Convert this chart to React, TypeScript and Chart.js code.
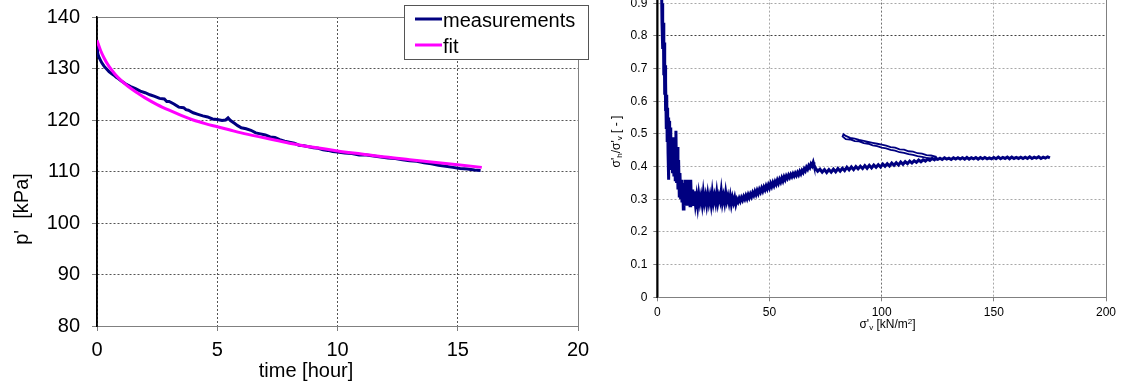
import React, { useEffect, useRef } from "react";
import { Chart, registerables } from "chart.js";

Chart.register(...registerables);

const FONT = '"Liberation Sans", Arial, Helvetica, sans-serif';
const NAVY = "#000080";
const MAGENTA = "#FF00FF";

// ---------- Left chart: p' vs time ----------
const timeTicks = [0, 5, 10, 15, 20];
const pTicks = [80, 90, 100, 110, 120, 130, 140];
const legendLabels = ["measurements", "fit"];
const leftXTitle = "time [hour]";
const leftYTitle = "p'  [kPa]";

const measTime = [
  0, 0.02, 0.05, 0.1, 0.2, 0.3, 0.4, 0.5, 0.6, 0.7,
  0.8, 0.9, 1.0, 1.2, 1.4, 1.6, 1.8, 2.0, 2.2, 2.4,
  2.6, 2.8, 2.9, 3.0, 3.2, 3.4, 3.6, 3.7, 3.8, 4.0,
  4.2, 4.4, 4.6, 4.8, 5.0, 5.2, 5.35, 5.45, 5.55, 5.7,
  5.85, 6.0, 6.2, 6.4, 6.6, 6.8, 7.0, 7.2, 7.4, 7.6,
  7.8, 8.0, 8.2, 8.4, 8.6, 8.8, 9.0, 9.2, 9.4, 9.6,
  9.8, 10.0, 10.3, 10.6, 10.9, 11.2, 11.5, 11.8, 12.1, 12.4,
  12.7, 13.0, 13.3, 13.6, 13.9, 14.2, 14.5, 14.8, 15.1, 15.4,
  15.7, 15.95,
];
const measP = [
  134.6, 133.2, 132.6, 132.0, 131.1, 130.4, 129.9, 129.4, 129.0, 128.7,
  128.3, 128.0, 127.6, 127.0, 126.5, 126.1, 125.6, 125.3, 124.9, 124.6,
  124.2, 124.1, 123.6, 123.6, 123.1, 122.5, 122.4, 122.0, 121.9, 121.4,
  121.1, 120.8, 120.6, 120.2, 120.1, 119.9, 120.0, 120.4, 119.9, 119.4,
  118.9, 118.5, 118.3, 118.0, 117.5, 117.3, 117.1, 116.7, 116.6, 116.2,
  115.9, 115.7, 115.5, 115.1, 115.0, 114.8, 114.6, 114.5, 114.2, 114.1,
  113.9, 113.8, 113.6, 113.5, 113.2, 113.2, 113.0, 112.8, 112.6, 112.5,
  112.3, 112.1, 112.0, 111.7, 111.5, 111.2, 111.0, 110.8, 110.6, 110.5,
  110.3, 110.2,
];
const fitTime = [
  0, 0.05, 0.15, 0.3, 0.5, 0.75, 1.0, 1.3, 1.7, 2.0,
  2.5, 3.0, 3.5, 4.0, 4.5, 5.0, 5.5, 6.0, 7.0, 8.0,
  9.0, 10.0, 11.0, 12.0, 13.0, 14.0, 15.0, 16.0,
];
const fitP = [
  135.5, 134.8, 133.5, 132.0, 130.4, 128.9, 127.7, 126.5, 125.2, 124.3,
  123.0, 121.9, 120.9, 120.0, 119.3, 118.7, 118.1, 117.5, 116.5, 115.5,
  114.7, 114.0, 113.4, 112.8, 112.3, 111.8, 111.3, 110.8,
];

// ---------- Right chart: stress ratio vs vertical stress ----------
const sigmaTicks = [0, 50, 100, 150, 200];
const ratioTicks = [0, 0.1, 0.2, 0.3, 0.4, 0.5, 0.6, 0.7, 0.8, 0.9, 1.0];

const descentV = [
  1.2, 1.5, 1.7, 1.9, 2.1, 2.3, 2.5, 2.7, 2.9, 3.1,
  3.3, 3.5, 3.6, 3.8, 4.0, 4.2, 4.4, 4.6, 4.8, 5.0,
  5.1, 5.3, 5.5, 5.7, 5.9, 6.1, 6.3, 6.6, 6.8, 7.1,
  7.4, 7.7, 8.0, 8.3, 8.6, 8.9, 9.2, 9.5, 9.8, 10.1,
  10.4, 10.7, 11.0, 11.3, 11.6, 11.9, 12.2, 12.5, 12.8, 13.1,
  13.4, 13.7, 14.0, 14.3, 14.6, 14.9, 15.2, 15.5, 15.8, 16.1,
];
const descentR = [
  1.05, 0.98, 0.92, 0.95, 0.84, 0.9, 0.76, 0.84, 0.68, 0.78,
  0.62, 0.71, 0.57, 0.66, 0.52, 0.62, 0.48, 0.58, 0.44, 0.55,
  0.36, 0.54, 0.42, 0.52, 0.4, 0.5, 0.39, 0.49, 0.38, 0.47,
  0.37, 0.49, 0.36, 0.51, 0.35, 0.46, 0.33, 0.42, 0.31, 0.38,
  0.3, 0.36, 0.29, 0.35, 0.27, 0.33, 0.28, 0.36, 0.29, 0.35,
  0.28, 0.36, 0.29, 0.34, 0.28, 0.36, 0.29, 0.33, 0.28, 0.32,
];
const plateauV = [
  16.5, 17, 17.5, 18, 18.5, 19, 19.5, 20, 20.5, 21,
  21.5, 22, 22.5, 23, 23.5, 24, 24.5, 25, 25.5, 26,
  26.5, 27, 27.5, 28, 28.5, 29, 29.5, 30, 30.5, 31,
  31.5, 32, 32.5, 33, 33.5, 34, 34.5, 35, 35.5,
];
const plateauR = [
  0.32, 0.285, 0.31, 0.28, 0.315, 0.29, 0.31, 0.285, 0.32, 0.29,
  0.31, 0.285, 0.315, 0.29, 0.31, 0.285, 0.32, 0.29, 0.31, 0.29,
  0.32, 0.29, 0.31, 0.295, 0.325, 0.29, 0.31, 0.29, 0.32, 0.295,
  0.31, 0.29, 0.31, 0.285, 0.305, 0.29, 0.305, 0.285, 0.3,
];
const riseV = [
  36, 36.5, 37, 37.5, 38, 38.5, 39, 39.5, 40, 40.5,
  41, 41.5, 42, 42.5, 43, 43.5, 44, 44.5, 45, 45.5,
  46, 46.5, 47, 47.5, 48, 48.5, 49, 49.5, 50, 50.5,
  51, 51.5, 52, 52.5, 53, 53.5, 54, 54.5, 55, 55.5,
  56, 56.5, 57, 57.5, 58, 58.5, 59, 59.5, 60, 60.5,
  61, 61.5, 62, 62.5, 63, 63.5, 64, 64.5, 65, 65.5,
  66, 66.5, 67, 67.5, 68, 68.5, 69, 69.5, 69.8,
];
const riseR = [
  0.292, 0.303, 0.294, 0.305, 0.297, 0.308, 0.3, 0.311, 0.302, 0.314,
  0.305, 0.316, 0.308, 0.32, 0.312, 0.324, 0.315, 0.327, 0.318, 0.33,
  0.322, 0.334, 0.325, 0.337, 0.329, 0.341, 0.332, 0.344, 0.335, 0.348,
  0.339, 0.351, 0.342, 0.354, 0.346, 0.358, 0.349, 0.361, 0.353, 0.365,
  0.356, 0.368, 0.36, 0.371, 0.364, 0.374, 0.367, 0.376, 0.369, 0.378,
  0.371, 0.38, 0.373, 0.382, 0.375, 0.385, 0.378, 0.388, 0.382, 0.393,
  0.387, 0.398, 0.392, 0.403, 0.397, 0.408, 0.402, 0.413, 0.405,
];
const loadV = [
  70.5, 71.5, 72.5, 73.5, 74.5, 75.5, 76.5, 77.5, 78.5, 79.5,
  80.5, 81.5, 82.5, 83.5, 84.5, 85.5, 86.5, 87.5, 88.5, 89.5,
  90.5, 91.5, 92.5, 93.5, 94.5, 95.5, 96.5, 97.5, 98.5, 99.5,
  100.5, 101.5, 102.5, 103.5, 104.5, 105.5, 106.5, 107.5, 108.5, 109.5,
  110.5, 111.5, 112.5, 113.5, 114.5, 115.5, 116.5, 117.5, 118.5, 119.5,
  120.5, 121.5, 122.5, 123.5,
];
const loadR = [
  0.395, 0.386, 0.392, 0.383, 0.391, 0.382, 0.391, 0.383, 0.392, 0.384,
  0.394, 0.386, 0.395, 0.388, 0.398, 0.39, 0.399, 0.391, 0.4, 0.393,
  0.401, 0.394, 0.403, 0.395, 0.404, 0.396, 0.405, 0.398, 0.406, 0.399,
  0.408, 0.401, 0.409, 0.402, 0.411, 0.404, 0.412, 0.405, 0.414, 0.407,
  0.415, 0.409, 0.417, 0.411, 0.418, 0.413, 0.42, 0.415, 0.421, 0.417,
  0.423, 0.419, 0.425, 0.421,
];
const unloadV = [
  124.5, 122, 120, 118, 116, 114, 112, 110, 108, 106,
  104, 102, 100, 98, 96, 94, 92, 90, 88, 86,
  84, 83, 82.6,
];
const unloadR = [
  0.43, 0.434, 0.435, 0.44, 0.441, 0.446, 0.447, 0.452, 0.453, 0.458,
  0.46, 0.464, 0.467, 0.47, 0.473, 0.476, 0.479, 0.482, 0.486, 0.488,
  0.494, 0.499, 0.492,
];
const reloadV = [
  84, 86, 88, 90, 92, 94, 96, 98, 100, 102,
  104, 106, 108, 110, 112, 114, 116, 118, 120, 122,
  124,
];
const reloadR = [
  0.484, 0.483, 0.478, 0.477, 0.472, 0.47, 0.465, 0.463, 0.458, 0.456,
  0.451, 0.449, 0.444, 0.442, 0.438, 0.436, 0.432, 0.43, 0.427, 0.425,
  0.424,
];
const tailV = [
  125, 126, 127, 128, 129, 130, 131, 132, 133, 134,
  135, 136, 137, 138, 139, 140, 141, 142, 143, 144,
  145, 146, 147, 148, 149, 150, 151, 152, 153, 154,
  155, 156, 157, 158, 159, 160, 161, 162, 163, 164,
  165, 166, 167, 168, 169, 170, 171, 172, 173, 174,
  175,
];
const tailR = [
  0.422, 0.426, 0.422, 0.427, 0.423, 0.426, 0.422, 0.427, 0.423, 0.427,
  0.423, 0.427, 0.423, 0.428, 0.423, 0.427, 0.424, 0.428, 0.423, 0.428,
  0.424, 0.428, 0.424, 0.427, 0.424, 0.428, 0.424, 0.429, 0.424, 0.428,
  0.425, 0.429, 0.424, 0.429, 0.425, 0.428, 0.425, 0.429, 0.425, 0.429,
  0.425, 0.43, 0.425, 0.429, 0.426, 0.43, 0.425, 0.429, 0.426, 0.43,
  0.427,
];

type Run = { t: string; size: number; dy?: number };
const rightXTitle: Run[] = [
  { t: "σ'", size: 12 },
  { t: "v", size: 8, dy: 2 },
  { t: " [kN/m", size: 12 },
  { t: "2", size: 8, dy: -4 },
  { t: "]", size: 12 },
];
const rightYTitle: Run[] = [
  { t: "σ'", size: 12 },
  { t: "h", size: 8, dy: 2 },
  { t: "/σ'", size: 12 },
  { t: "v", size: 8, dy: 2 },
  { t: " [ - ]", size: 12 },
];

function runsWidth(ctx: CanvasRenderingContext2D, runs: Run[]) {
  let w = 0;
  for (const r of runs) {
    ctx.font = `${r.size}px ${FONT}`;
    w += ctx.measureText(r.t).width;
  }
  return w;
}
function drawRuns(ctx: CanvasRenderingContext2D, runs: Run[], x: number, y: number) {
  let cx = x - runsWidth(ctx, runs) / 2;
  ctx.textAlign = "left";
  ctx.textBaseline = "alphabetic";
  for (const r of runs) {
    ctx.font = `${r.size}px ${FONT}`;
    ctx.fillText(r.t, cx, y + (r.dy || 0));
    cx += ctx.measureText(r.t).width;
  }
}

const toPoints = (xs: number[], ys: number[]) => xs.map((x, i) => ({ x, y: ys[i] }));

function drawFrame(chart: any) {
  const { ctx, chartArea: a } = chart;
  ctx.save();
  ctx.setLineDash([]);
  ctx.strokeStyle = "#808080";
  ctx.lineWidth = 1;
  ctx.beginPath();
  ctx.moveTo(a.left, Math.round(a.top) + 0.5);
  ctx.lineTo(Math.round(a.right) + 0.5, Math.round(a.top) + 0.5);
  ctx.lineTo(Math.round(a.right) + 0.5, Math.round(a.bottom) + 0.5);
  ctx.lineTo(a.left, Math.round(a.bottom) + 0.5);
  ctx.stroke();
  ctx.strokeStyle = "#000";
  ctx.lineWidth = 1.5;
  ctx.beginPath();
  ctx.moveTo(Math.round(a.left), a.top);
  ctx.lineTo(Math.round(a.left), Math.round(a.bottom) + 1);
  ctx.stroke();
  ctx.restore();
}

const leftDecor = {
  id: "leftDecor",
  beforeDatasetsDraw(chart: any) {
    drawFrame(chart);
  },
  afterDraw(chart: any) {
    const { ctx } = chart;
    ctx.save();
    ctx.fillStyle = "#000";
    ctx.font = `20px ${FONT}`;
    ctx.textAlign = "center";
    ctx.textBaseline = "alphabetic";
    ctx.fillText(leftXTitle, 306, 377);
    ctx.save();
    ctx.translate(28, 209);
    ctx.rotate(-Math.PI / 2);
    ctx.fillText(leftYTitle, 0, 0);
    ctx.restore();
    // legend
    ctx.fillStyle = "#fff";
    ctx.fillRect(404, 5, 184, 54);
    ctx.strokeStyle = "#555";
    ctx.lineWidth = 1;
    ctx.strokeRect(404.5, 5.5, 184, 54);
    const colors = [NAVY, MAGENTA];
    const ys = [19, 45];
    legendLabels.forEach((lab, i) => {
      ctx.strokeStyle = colors[i];
      ctx.lineWidth = 3;
      ctx.beginPath();
      ctx.moveTo(415, ys[i]);
      ctx.lineTo(442, ys[i]);
      ctx.stroke();
      ctx.fillStyle = "#000";
      ctx.textAlign = "left";
      ctx.font = `20px ${FONT}`;
      ctx.fillText(lab, 443, ys[i] + 7.5);
    });
    ctx.restore();
  },
};

const rightDecor = {
  id: "rightDecor",
  beforeDatasetsDraw(chart: any) {
    drawFrame(chart);
  },
  afterDraw(chart: any) {
    const { ctx } = chart;
    ctx.save();
    ctx.fillStyle = "#000";
    drawRuns(ctx, rightXTitle, 287.5, 357.5);
    ctx.translate(20, 171.5);
    ctx.rotate(-Math.PI / 2);
    drawRuns(ctx, rightYTitle, 0, 0);
    ctx.restore();
  },
};

function LeftChart() {
  const ref = useRef<HTMLCanvasElement>(null);
  useEffect(() => {
    const chart = new Chart(ref.current as HTMLCanvasElement, {
      type: "line",
      data: {
        datasets: [
          {
            label: legendLabels[1],
            data: toPoints(fitTime, fitP),
            borderColor: MAGENTA,
            borderWidth: 3,
            pointRadius: 0,
            cubicInterpolationMode: "monotone",
            order: 0,
          },
          {
            label: legendLabels[0],
            data: toPoints(measTime, measP),
            borderColor: NAVY,
            borderWidth: 3,
            pointRadius: 0,
            order: 1,
          },
        ],
      },
      options: {
        animation: false,
        responsive: false,
        events: [],
        layout: { padding: { left: 0, right: 22, top: 17, bottom: 0 } },
        plugins: { legend: { display: false }, tooltip: { enabled: false } },
        scales: {
          x: {
            type: "linear",
            min: 0,
            max: 20,
            afterBuildTicks: (s: any) => {
              s.ticks = timeTicks.map((v) => ({ value: v }));
            },
            afterFit: (s: any) => {
              s.height = 56;
              s.paddingLeft = 0;
              s.paddingRight = 0;
            },
            grid: { color: "#555", lineWidth: 1, tickLength: 5, tickColor: "#808080" },
            border: { color: "#808080", width: 1, dash: [2, 2] },
            ticks: { font: { family: FONT, size: 20 }, color: "#000", padding: 7, maxRotation: 0, autoSkip: false },
          },
          y: {
            type: "linear",
            min: 80,
            max: 140,
            afterBuildTicks: (s: any) => {
              s.ticks = pTicks.map((v) => ({ value: v }));
            },
            afterFit: (s: any) => {
              s.width = 97;
              s.paddingTop = 0;
              s.paddingBottom = 0;
            },
            grid: { color: "#555", lineWidth: 1, tickLength: 5, tickColor: "#808080" },
            border: { color: "#000", width: 1.5, dash: [2, 2] },
            ticks: { font: { family: FONT, size: 20 }, color: "#000", padding: 12, autoSkip: false },
          },
        },
      },
      plugins: [leftDecor],
    } as any);
    return () => chart.destroy();
  }, []);
  return (
    <canvas
      ref={ref}
      width={600}
      height={382}
      style={{ position: "absolute", left: 0, top: 0, width: 600, height: 382 }}
    />
  );
}

function RightChart() {
  const ref = useRef<HTMLCanvasElement>(null);
  useEffect(() => {
    const vs = [...descentV, ...plateauV, ...riseV, ...loadV, ...unloadV, ...reloadV, ...tailV];
    const rs = [...descentR, ...plateauR, ...riseR, ...loadR, ...unloadR, ...reloadR, ...tailR];
    const loopStart = descentV.length + plateauV.length + riseV.length + loadV.length;
    const loopEnd = loopStart + unloadV.length + reloadV.length - 1;
    const descentEnd = descentV.length - 1;
    const chart = new Chart(ref.current as HTMLCanvasElement, {
      type: "line",
      data: {
        datasets: [
          {
            label: "σ'h/σ'v",
            data: toPoints(vs, rs),
            borderColor: NAVY,
            borderWidth: 3,
            pointRadius: 0,
            tension: 0,
            segment: {
              borderWidth: (c: any) =>
                c.p0DataIndex < descentEnd
                  ? 3
                  : c.p0DataIndex >= loopStart && c.p0DataIndex < loopEnd
                  ? 1.8
                  : 3,
            },
          },
        ],
      },
      options: {
        animation: false,
        responsive: false,
        events: [],
        layout: { padding: { left: 0, right: 22, top: 0.6, bottom: 0 } },
        plugins: { legend: { display: false }, tooltip: { enabled: false } },
        scales: {
          x: {
            type: "linear",
            min: 0,
            max: 200,
            afterBuildTicks: (s: any) => {
              s.ticks = sigmaTicks.map((v) => ({ value: v }));
            },
            afterFit: (s: any) => {
              s.height = 84.7;
              s.paddingLeft = 0;
              s.paddingRight = 0;
            },
            grid: {
              color: (c: any) => (c.tick && c.tick.value === 100 ? "#707070" : "#a8a8a8"),
              lineWidth: 1,
              tickLength: 4,
              tickColor: "#808080",
            },
            border: { color: "#808080", width: 1, dash: [2, 2] },
            ticks: { font: { family: FONT, size: 12 }, color: "#000", padding: 4, maxRotation: 0, autoSkip: false },
          },
          y: {
            type: "linear",
            min: 0,
            max: 1,
            afterBuildTicks: (s: any) => {
              s.ticks = ratioTicks.map((v) => ({ value: v }));
            },
            afterFit: (s: any) => {
              s.width = 57.3;
              s.paddingTop = 0;
              s.paddingBottom = 0;
            },
            grid: {
              color: (c: any) => (c.tick && c.tick.value === 0.8 ? "#404040" : "#a8a8a8"),
              lineWidth: 1,
              tickLength: 4,
              tickColor: "#808080",
            },
            border: { color: "#000", width: 1.5, dash: [2, 2] },
            ticks: {
              font: { family: FONT, size: 12 },
              color: "#000",
              padding: 6,
              autoSkip: false,
              callback: (v: any) => String(Math.round(Number(v) * 10) / 10),
            },
          },
        },
      },
      plugins: [rightDecor],
    } as any);
    return () => chart.destroy();
  }, []);
  return (
    <canvas
      ref={ref}
      width={528}
      height={412}
      style={{ position: "absolute", left: 600, top: -30, width: 528, height: 412 }}
    />
  );
}

export default function App() {
  return (
    <div
      style={{
        position: "absolute",
        left: 0,
        top: 0,
        width: 1128,
        height: 382,
        overflow: "hidden",
        background: "#fff",
      }}
    >
      <LeftChart />
      <RightChart />
    </div>
  );
}
